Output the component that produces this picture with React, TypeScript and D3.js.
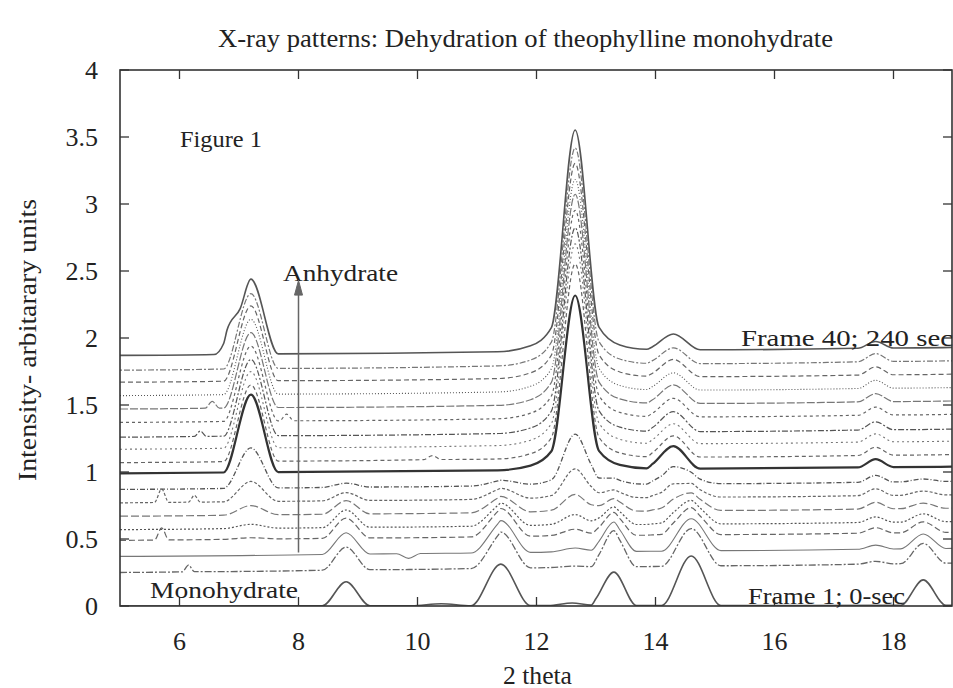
import React, { useEffect, useRef } from "react";
import * as d3 from "d3";

// axis ticks
const xTicks = [6, 8, 10, 12, 14, 16, 18];
const yTicks = [0, 0.5, 1, 1.5, 2, 2.5, 3, 3.5, 4];

// vertical offset of each pattern (frame 1 at the bottom, frame 40 on top), read at 2theta=5 and 2theta=19
const baseLeft = [0, 0.25, 0.37, 0.49, 0.57, 0.67, 0.77, 0.87, 0.99, 1.07, 1.17, 1.26, 1.37, 1.47, 1.57, 1.67, 1.76, 1.87];
const baseRight = [0.005, 0.32, 0.43, 0.55, 0.63, 0.73, 0.83, 0.93, 1.04, 1.13, 1.23, 1.32, 1.43, 1.53, 1.63, 1.73, 1.83, 1.93];

// monohydrate reflections (fade out)
const monoPositions = [8.8, 11.4, 13.3, 14.6, 18.5];
const monoWidths = [0.4, 0.5, 0.38, 0.5, 0.38];
const monoHeights = [
  [0.18, 0.31, 0.25, 0.37, 0.19],
  [0.17, 0.27, 0.27, 0.28, 0.15],
  [0.16, 0.24, 0.22, 0.24, 0.11],
  [0.15, 0.21, 0.17, 0.2, 0.08],
  [0.13, 0.17, 0.13, 0.17, 0.06],
  [0.1, 0.12, 0.09, 0.12, 0.04],
  [0.06, 0.08, 0.05, 0.08, 0.03],
  [0.03, 0.04, 0.03, 0.05, 0.02],
  [0, 0, 0, 0, 0],
  [0, 0, 0, 0, 0],
  [0, 0, 0, 0, 0],
  [0, 0, 0, 0, 0],
  [0, 0, 0, 0, 0],
  [0, 0, 0, 0, 0],
  [0, 0, 0, 0, 0],
  [0, 0, 0, 0, 0],
  [0, 0, 0, 0, 0],
  [0, 0, 0, 0, 0],
];

// anhydrate reflections (grow in): 7.2, 12.65, 14.3, 17.7
const anhyPositions = [7.2, 12.65, 14.3, 17.7];
const anhyWidths = [0.46, 0.4, 0.45, 0.3];
const anhyHeights = [
  [0, 0, 0, 0],
  [0, 0.01, 0, 0.02],
  [0, 0.03, 0, 0.03],
  [0.01, 0.05, 0.01, 0.04],
  [0.03, 0.08, 0.02, 0.04],
  [0.07, 0.13, 0.04, 0.05],
  [0.15, 0.22, 0.07, 0.05],
  [0.3, 0.38, 0.11, 0.05],
  [0.58, 1.3, 0.17, 0.06],
  [0.57, 1.45, 0.16, 0.06],
  [0.57, 1.5, 0.15, 0.06],
  [0.57, 1.53, 0.15, 0.06],
  [0.56, 1.55, 0.14, 0.06],
  [0.56, 1.57, 0.14, 0.06],
  [0.56, 1.58, 0.13, 0.06],
  [0.56, 1.6, 0.13, 0.06],
  [0.56, 1.62, 0.12, 0.06],
  [0.56, 1.65, 0.12, 0.05],
];
// the 12.65 peak has wide tails: share of height and half width of each part
const bigPeakParts = [
  [0.8, 0.4],
  [0.14, 0.75],
  [0.06, 1.3],
];

// small extra features: [frame index, position, height, half width]
const extraBumps = [
  [0, 10.4, 0.015, 0.5],
  [0, 12.6, 0.02, 0.4],
  [1, 6.15, 0.05, 0.1],
  [2, 9.85, -0.035, 0.2],
  [3, 5.7, 0.09, 0.12],
  [6, 5.7, 0.1, 0.12],
  [6, 6.25, 0.05, 0.1],
  [9, 10.25, 0.03, 0.15],
  [11, 6.35, 0.04, 0.1],
  [12, 7.8, 0.05, 0.12],
  [13, 6.55, 0.05, 0.12],
  [17, 6.8, 0.11, 0.22],
];

const lineDash = ["", "7,2,2,2", "", "6,3", "2,2", "8,3", "3,2", "5,2,1,2", "", "4,3", "2,3", "6,2,2,2", "3,3", "8,2", "1,2", "5,3", "2,2,6,2", ""];
const lineWidth = [1.6, 1.3, 1.1, 1.2, 1.2, 1.2, 1.2, 1.3, 2.2, 1.2, 1.1, 1.2, 1.2, 1.2, 1.1, 1.2, 1.2, 1.6];
const lineColor = ["#555", "#666", "#777", "#666", "#555", "#777", "#666", "#555", "#333", "#666", "#777", "#555", "#666", "#777", "#555", "#666", "#777", "#555"];

const FONT = "'Liberation Serif', 'Times New Roman', serif";

const App = () => {
  const svgRef = useRef(null);

  useEffect(() => {
    const svg = d3.select(svgRef.current);
    svg.selectAll("*").remove();

    const width = 953;
    const height = 688;
    const left = 120, right = 952, top = 70, bottom = 606;

    const x = d3.scaleLinear().domain([5, 19]).range([left, 953]);
    const y = d3.scaleLinear().domain([0, 4]).range([bottom, top]);

    svg.attr("width", width).attr("height", height);
    svg.append("rect").attr("width", width).attr("height", height).attr("fill", "#fff");

    svg.append("clipPath").attr("id", "plot-clip")
      .append("rect").attr("x", left).attr("y", top).attr("width", right - left).attr("height", bottom - top);

    // build the peak list of one frame
    const parts = (k) => {
      const list = [];
      monoPositions.forEach((c, i) => list.push({ c, h: monoHeights[k][i], w: monoWidths[i] }));
      anhyPositions.forEach((c, i) => {
        const h = anhyHeights[k][i];
        if (i === 1) {
          bigPeakParts.forEach(([share, w]) => list.push({ c, h: h * share, w }));
        } else {
          list.push({ c, h, w: anhyWidths[i] });
        }
      });
      extraBumps.filter((b) => b[0] === k).forEach((b) => list.push({ c: b[1], h: b[2], w: b[3] }));
      return list.filter((p) => p.h !== 0);
    };

    const frames = baseLeft.map((b0, k) => {
      const peaks = parts(k);
      const base = d3.scaleLinear().domain([5, 19]).range([b0, baseRight[k]]);
      let xs = [5, 19];
      peaks.forEach((p) => xs.push(p.c - p.w, p.c, p.c + p.w));
      xs = Array.from(new Set(xs.map((v) => +v.toFixed(4)))).filter((v) => v >= 5 && v <= 19).sort((a, b) => a - b);
      return xs.map((xv) => {
        let v = base(xv);
        peaks.forEach((p) => {
          const d = Math.abs(xv - p.c);
          if (d < p.w) v += p.h * (1 - d / p.w);
        });
        return [xv, v];
      });
    });

    const line = d3.line()
      .x((d) => x(d[0]))
      .y((d) => y(d[1]))
      .curve(d3.curveMonotoneX);

    const g = svg.append("g").attr("clip-path", "url(#plot-clip)");
    g.selectAll("path.frame")
      .data(frames)
      .join("path")
      .attr("class", "frame")
      .attr("d", line)
      .attr("fill", "none")
      .attr("stroke", (d, i) => lineColor[i])
      .attr("stroke-width", (d, i) => lineWidth[i])
      .attr("stroke-dasharray", (d, i) => lineDash[i] || null)
      .attr("stroke-linejoin", "round");

    // frame border and inward ticks
    svg.append("rect")
      .attr("x", left).attr("y", top)
      .attr("width", right - left).attr("height", bottom - top)
      .attr("fill", "none").attr("stroke", "#333").attr("stroke-width", 1.6);

    const tickLen = 9;
    xTicks.forEach((t) => {
      svg.append("line").attr("x1", x(t)).attr("x2", x(t)).attr("y1", bottom).attr("y2", bottom - tickLen).attr("stroke", "#333").attr("stroke-width", 1.3);
      svg.append("line").attr("x1", x(t)).attr("x2", x(t)).attr("y1", top).attr("y2", top + tickLen).attr("stroke", "#333").attr("stroke-width", 1.3);
    });
    yTicks.forEach((t) => {
      svg.append("line").attr("x1", left).attr("x2", left + tickLen).attr("y1", y(t)).attr("y2", y(t)).attr("stroke", "#333").attr("stroke-width", 1.3);
      svg.append("line").attr("x1", right).attr("x2", right - tickLen).attr("y1", y(t)).attr("y2", y(t)).attr("stroke", "#333").attr("stroke-width", 1.3);
    });

    svg.selectAll("text.xtick")
      .data(xTicks)
      .join("text")
      .attr("class", "xtick")
      .attr("x", (d) => x(d))
      .attr("y", 650)
      .attr("text-anchor", "middle")
      .style("font-family", FONT).style("font-size", "26px").attr("fill", "#222")
      .text((d) => d);

    svg.selectAll("text.ytick")
      .data(yTicks)
      .join("text")
      .attr("class", "ytick")
      .attr("x", 98)
      .attr("y", (d) => y(d) + 9)
      .attr("text-anchor", "end")
      .style("font-family", FONT).style("font-size", "26px").attr("fill", "#222")
      .text((d) => d);

    // titles and labels
    const label = (txt, px, py, size, len, anchor = "start") =>
      svg.append("text")
        .attr("x", px).attr("y", py)
        .attr("text-anchor", anchor)
        .attr("textLength", len).attr("lengthAdjust", "spacingAndGlyphs")
        .style("font-family", FONT).style("font-size", `${size}px`).attr("fill", "#222")
        .text(txt);

    label("X-ray patterns: Dehydration of theophylline monohydrate", 218, 47, 25, 615);
    label("2 theta", 503, 684, 25, 69);
    label("Figure 1", 180, 147, 23, 82);
    label("Anhydrate", 283, 281, 24, 115);
    label("Monohydrate", 150, 598, 24, 148);
    label("Frame 40; 240 sec", 741, 346, 23, 212);
    label("Frame 1; 0-sec", 748, 604, 23, 157);

    svg.append("text")
      .attr("transform", "translate(36, 340) rotate(-90)")
      .attr("text-anchor", "middle")
      .attr("textLength", 282).attr("lengthAdjust", "spacingAndGlyphs")
      .style("font-family", FONT).style("font-size", "25px").attr("fill", "#222")
      .text("Intensity- arbitarary units");

    // arrow from monohydrate to anhydrate
    const ax = x(8);
    svg.append("line")
      .attr("x1", ax).attr("x2", ax).attr("y1", y(0.4)).attr("y2", y(2.32))
      .attr("stroke", "#666").attr("stroke-width", 1.5);
    svg.append("path")
      .attr("d", `M${ax - 4},${y(2.32)} L${ax},${y(2.43)} L${ax + 4},${y(2.32)} Z`)
      .attr("fill", "#666").attr("stroke", "#666").attr("stroke-width", 1);
  }, []);

  return (
    <div style={{ position: "absolute", left: 0, top: 0 }}>
      <svg ref={svgRef} style={{ display: "block" }}></svg>
    </div>
  );
};

export default App;
